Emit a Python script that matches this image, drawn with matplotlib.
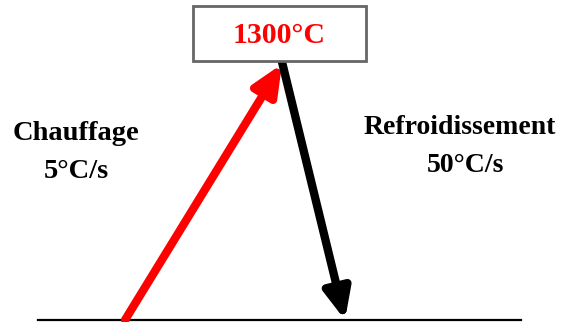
import matplotlib.pyplot as plt
from matplotlib.patches import Rectangle

# Profile points (pixel coordinates of the sketch: start, peak, end)
profile_x = [125, 282, 345]
profile_y = [320, 64, 320]
peak_label = "1300°C"
heat_label = ["Chauffage", "5°C/s"]
cool_label = ["Refroidissement", "50°C/s"]

plt.rcParams["font.family"] = ["Liberation Serif", "DejaVu Serif"]

fig = plt.figure(figsize=(5.69, 3.22), dpi=100)
ax = fig.add_axes([0, 0, 1, 1])
ax.set_xlim(0, 569)
ax.set_ylim(322, 0)
ax.axis("off")

# baseline
ax.plot([38, 521], [319.5, 319.5], color="black", lw=1.6)

# heating arrow
ax.annotate("", xy=(profile_x[1], profile_y[1]), xytext=(profile_x[0], profile_y[0]),
            arrowprops=dict(arrowstyle="-|>,head_length=1.8,head_width=0.8",
                            color="red", lw=6, shrinkA=0, shrinkB=0))

# cooling arrow
ax.annotate("", xy=(profile_x[2], profile_y[2]), xytext=(profile_x[1], profile_y[1] - 2),
            arrowprops=dict(arrowstyle="-|>,head_length=1.8,head_width=0.8",
                            color="black", lw=6, shrinkA=0, shrinkB=0))

# peak temperature box
ax.add_patch(Rectangle((193, 6), 173, 55, facecolor="white", edgecolor="#666666", lw=2, zorder=3))
ax.text(279.5, 35, peak_label, color="red", fontsize=21.5, fontweight="bold",
        ha="center", va="center", zorder=4)

ax.text(76, 133, heat_label[0], fontsize=20.5, fontweight="bold", ha="center", va="center")
ax.text(76, 171, heat_label[1], fontsize=20.5, fontweight="bold", ha="center", va="center")
ax.text(460, 127, cool_label[0], fontsize=20, fontweight="bold", ha="center", va="center")
ax.text(466, 165, cool_label[1], fontsize=20, fontweight="bold", ha="center", va="center")

fig.savefig("out.png", dpi=100)
